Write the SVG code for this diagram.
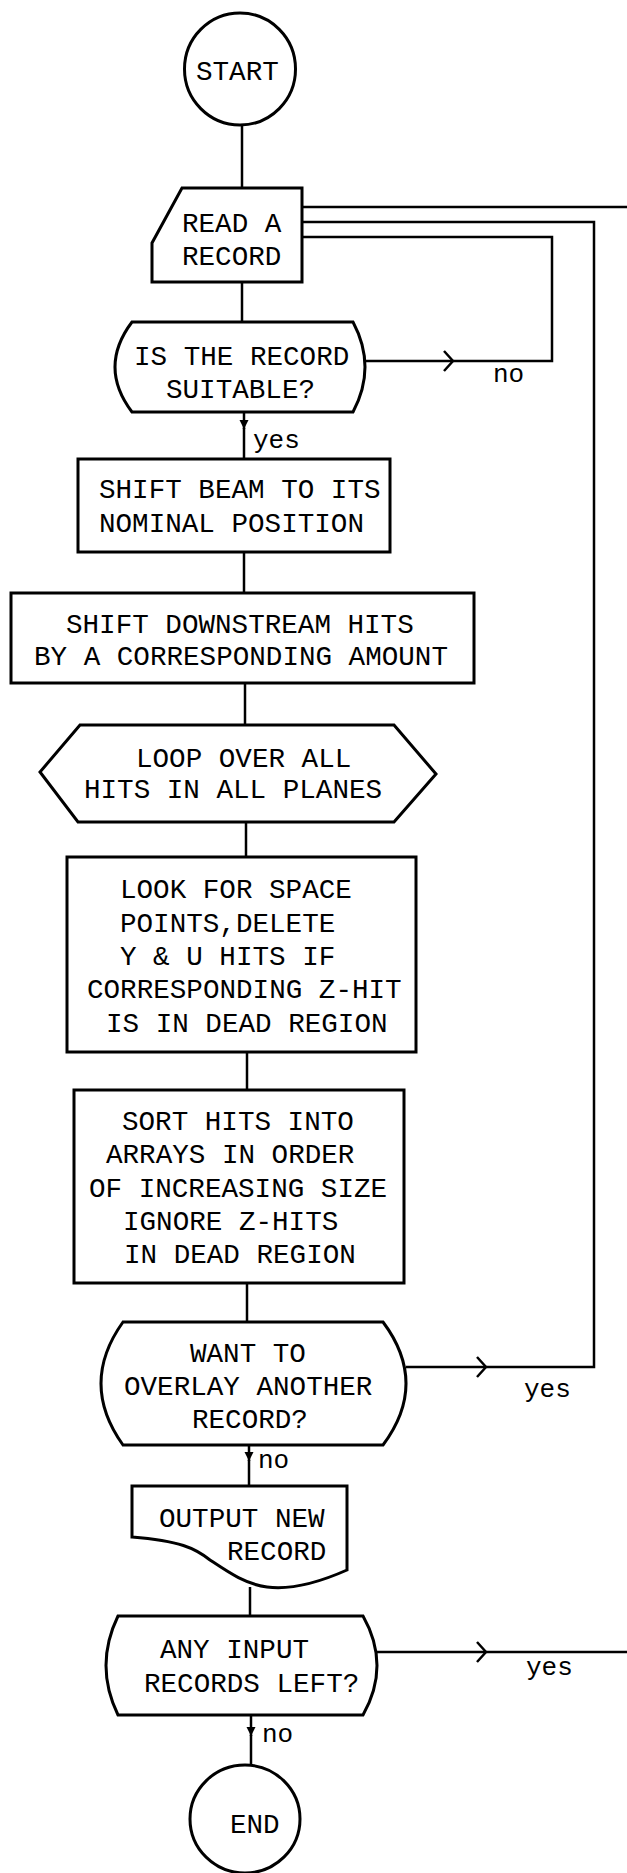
<svg xmlns="http://www.w3.org/2000/svg" width="627" height="1873" viewBox="0 0 627 1873">
<style>
.s{fill:#fff;stroke:#000;stroke-width:3;stroke-linejoin:miter}
.c{fill:none;stroke:#000;stroke-width:2.5}
text{font-family:"Liberation Mono","Courier New",monospace;font-size:27.6px;fill:#000}
.l{font-size:26px}
</style>
<defs>
<marker id="chev" viewBox="-12 -12 14 24" markerWidth="14" markerHeight="24" refX="0" refY="0" orient="auto" markerUnits="userSpaceOnUse">
<path d="M-9,-10 L0,0 L-9,10" fill="none" stroke="#000" stroke-width="2.5"/>
</marker>
<marker id="tri" viewBox="-10 -5 11 10" markerWidth="11" markerHeight="10" refX="0" refY="0" orient="auto" markerUnits="userSpaceOnUse">
<path d="M-9,-4.5 L0,0 L-9,4.5 Z" fill="#000"/>
</marker>
</defs>
<rect width="627" height="1873" fill="#fff"/>
<g id="connectors">
<path class="c" d="M242,125 V188"/>
<path class="c" d="M242,282 V322"/>
<path class="c" d="M365,361 H453" marker-end="url(#chev)"/>
<path class="c" d="M453,361 H552 V237 H302"/>
<path class="c" d="M244,412 V429" marker-end="url(#tri)"/>
<path class="c" d="M244,428 V459"/>
<path class="c" d="M244,552 V593"/>
<path class="c" d="M245,683 V725"/>
<path class="c" d="M246,822 V857"/>
<path class="c" d="M247,1052 V1090"/>
<path class="c" d="M247,1283 V1322"/>
<path class="c" d="M406,1367 H486" marker-end="url(#chev)"/>
<path class="c" d="M486,1367 H594 V222 H302"/>
<path class="c" d="M249,1445 V1461" marker-end="url(#tri)"/>
<path class="c" d="M249,1460 V1486"/>
<path class="c" d="M250,1587 V1616"/>
<path class="c" d="M377,1652 H486" marker-end="url(#chev)"/>
<path class="c" d="M486,1652 H627"/>
<path class="c" d="M302,207 H627"/>
<path class="c" d="M251,1715 V1736" marker-end="url(#tri)"/>
<path class="c" d="M251,1735 V1765"/>
<text class="l" x="493" y="382">no</text>
<text class="l" x="253" y="448">yes</text>
<text class="l" x="524" y="1397">yes</text>
<text class="l" x="258" y="1468">no</text>
<text class="l" x="526" y="1675">yes</text>
<text class="l" x="262" y="1742">no</text>
</g>
<g id="start">
<ellipse class="s" cx="240" cy="69" rx="55.5" ry="56"/>
<text x="196" y="80">START</text>
</g>
<g id="read">
<path class="s" d="M182,188 H302 V282 H152 V243 Z"/>
<text x="182" y="232">READ A</text>
<text x="182" y="265">RECORD</text>
</g>
<g id="suitable">
<path class="s" d="M132,322 H353 Q377,367 353,412 H132 Q98,367 132,322 Z"/>
<text x="134" y="365">IS THE RECORD</text>
<text x="166" y="398">SUITABLE?</text>
</g>
<g id="shiftbeam">
<rect class="s" x="78" y="459" width="312" height="93"/>
<text x="99" y="498">SHIFT BEAM TO ITS</text>
<text x="99" y="532">NOMINAL POSITION</text>
</g>
<g id="shiftdown">
<rect class="s" x="11" y="593" width="463" height="90"/>
<text x="66" y="633">SHIFT DOWNSTREAM HITS</text>
<text x="34" y="665">BY A CORRESPONDING AMOUNT</text>
</g>
<g id="loop">
<path class="s" d="M80,725 H394 L436,774 L394,822 H78 L40,772 Z"/>
<text x="136" y="767">LOOP OVER ALL</text>
<text x="84" y="798">HITS IN ALL PLANES</text>
</g>
<g id="look">
<rect class="s" x="67" y="857" width="349" height="195"/>
<text x="120" y="898">LOOK FOR SPACE</text>
<text x="120" y="932">POINTS,DELETE</text>
<text x="120" y="965">Y &amp; U HITS IF</text>
<text x="87" y="998">CORRESPONDING Z-HIT</text>
<text x="106" y="1032">IS IN DEAD REGION</text>
</g>
<g id="sort">
<rect class="s" x="74" y="1090" width="330" height="193"/>
<text x="122" y="1130">SORT HITS INTO</text>
<text x="106" y="1163">ARRAYS IN ORDER</text>
<text x="89" y="1197">OF INCREASING SIZE</text>
<text x="123" y="1230">IGNORE Z-HITS</text>
<text x="124" y="1263">IN DEAD REGION</text>
</g>
<g id="want">
<path class="s" d="M123,1322 H383 Q429,1383.5 383,1445 H123 Q79,1383.5 123,1322 Z"/>
<text x="190" y="1362">WANT TO</text>
<text x="124" y="1395">OVERLAY ANOTHER</text>
<text x="192" y="1428">RECORD?</text>
</g>
<g id="output">
<path class="s" d="M132,1486 H347 V1570 C320,1582 290,1590 267,1587 C245,1584 228,1572 210,1560 C195,1548 180,1541 132,1537 Z"/>
<text x="159" y="1527">OUTPUT NEW</text>
<text x="227" y="1560">RECORD</text>
</g>
<g id="anyinput">
<path class="s" d="M118,1616 H363 Q391,1665.5 363,1715 H118 Q94,1665.5 118,1616 Z"/>
<text x="160" y="1658">ANY INPUT</text>
<text x="144" y="1692">RECORDS LEFT?</text>
</g>
<g id="end">
<ellipse class="s" cx="245" cy="1819" rx="55" ry="54"/>
<text x="230" y="1833">END</text>
</g>
</svg>
